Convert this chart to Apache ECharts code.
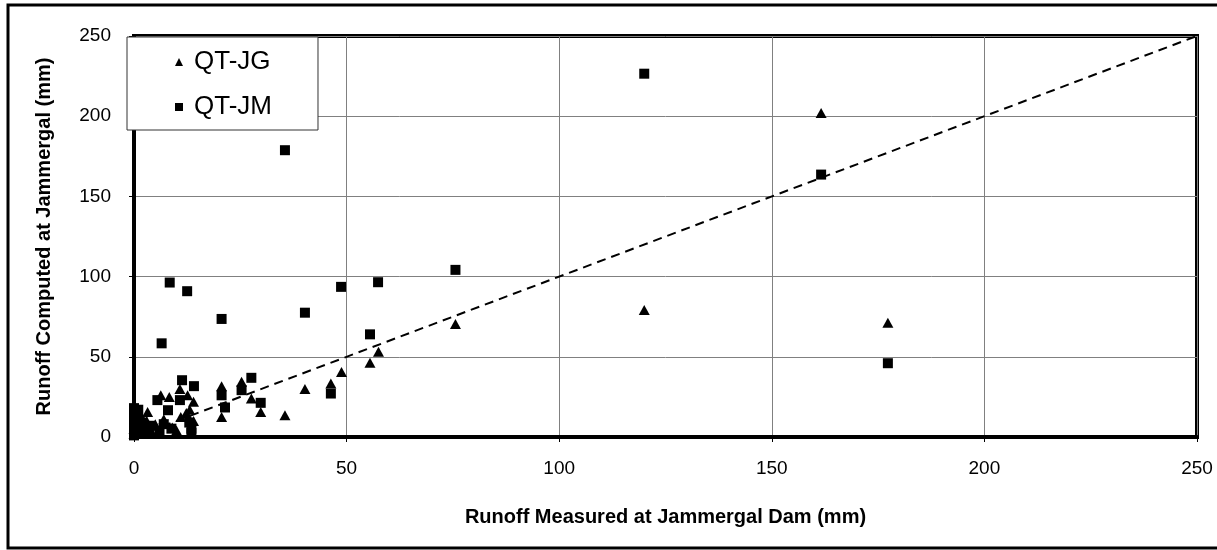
<!DOCTYPE html>
<html>
<head>
<meta charset="utf-8">
<script src="https://cdn.jsdelivr.net/npm/echarts@6/dist/echarts.min.js"></script>
<style>
  html, body { margin: 0; padding: 0; background: #fff; overflow: hidden; }
  #chart { width: 1217px; height: 550px; }
</style>
</head>
<body>
<div id="chart"></div>
<script>
// Runoff at Jammergal: computed (two methods) versus measured, in mm
const seriesNames = ['QT-JG', 'QT-JM'];
const axisTicks = [0, 50, 100, 150, 200, 250];

// QT-JG: [measured, computed]
const qtJG = [
  [0, 2], [0, 5], [0.5, 8], [1, 3], [1.6, 13.6], [2, 6], [3.2, 15.6], [3, 10],
  [4, 4], [5, 8], [6.3, 26], [8.3, 25], [7, 11], [9, 6], [10, 4], [10.8, 30],
  [11, 12.5], [12.3, 15], [12.6, 26], [13.1, 17], [14, 22], [14, 10],
  [20.6, 31.7], [20.6, 12.5], [25.3, 34.4], [27.6, 24], [29.8, 15.6],
  [35.5, 13.6], [40.2, 30], [46.3, 33.4], [48.8, 40.6], [55.5, 46.3],
  [57.5, 53.1], [75.6, 70.4], [120, 79.2], [161.6, 202], [177.3, 71.3]
];

// QT-JM: [measured, computed]
const qtJM = [
  [0, 1], [0, 3], [0, 6], [0, 9], [0, 12], [0, 15], [0, 18], [1, 2], [1, 17],
  [2, 5], [2, 9], [3, 3], [4, 7], [5.5, 23], [6.5, 58.4], [6, 3], [7, 8],
  [8, 16.7], [8.4, 96.3], [8.8, 5.2], [10.8, 23], [11.3, 35.4], [12.5, 90.9],
  [13, 9], [13.5, 5.2], [13.5, 2.5], [14.1, 31.7], [20.6, 73.6], [20.6, 26],
  [21.4, 18.4], [25.3, 29.2], [27.6, 36.9], [29.8, 21.3], [35.5, 178.8],
  [40.2, 77.5], [46.3, 27.1], [48.7, 93.6], [55.5, 64], [57.4, 96.5],
  [75.6, 104.2], [120, 226.5], [161.6, 163.6], [177.3, 46]
];

// 1:1 reference line
const oneToOne = [[0, 0], [250, 250]];

const FONT = '"Liberation Sans", Arial, sans-serif';
const chart = echarts.init(document.getElementById('chart'), null, { renderer: 'canvas' });

const valueAxis = (name, extra) => Object.assign({
  type: 'value',
  min: axisTicks[0],
  max: axisTicks[axisTicks.length - 1],
  interval: axisTicks[1] - axisTicks[0],
  name: name,
  nameLocation: 'middle',
  nameTextStyle: { fontFamily: FONT, fontWeight: 'bold', fontSize: 20, color: '#000' },
  axisLine: { show: true, lineStyle: { color: '#000', width: 4 } },
  axisTick: { show: true, inside: false, length: 5, lineStyle: { color: '#000', width: 1 } },
  splitLine: { show: true, lineStyle: { color: '#808080', width: 1 } }
}, extra);

chart.setOption({
  animation: false,
  backgroundColor: '#fff',
  graphic: [{
    // outer frame: left, top and bottom edges (open on the right)
    type: 'polyline',
    shape: { points: [[1217, 5], [8, 5], [8, 548], [1217, 548]] },
    style: { fill: 'none', stroke: '#000', lineWidth: 3 },
    z: -1
  }],
  grid: {
    left: 134, right: 20, top: 36, bottom: 113,
    show: true, borderColor: '#000', borderWidth: 4, backgroundColor: 'transparent'
  },
  legend: {
    orient: 'vertical',
    left: 127, top: 37,
    padding: [12, 46, 10, 48],
    itemWidth: 8, itemHeight: 8, itemGap: 19, itemStyle: { borderWidth: 0 },
    backgroundColor: '#fff', borderColor: '#333', borderWidth: 1,
    textStyle: { fontFamily: FONT, fontSize: 26, color: '#000', lineHeight: 26, padding: [0, 0, 0, 6] },
    data: [
      { name: seriesNames[0], icon: 'triangle' },
      { name: seriesNames[1], icon: 'rect' }
    ],
    z: 10
  },
  xAxis: valueAxis('Runoff Measured at Jammergal Dam (mm)', {
    nameGap: 70,
    axisLabel: { fontFamily: FONT, fontSize: 19, color: '#000', margin: 22 }
  }),
  yAxis: valueAxis('Runoff Computed at Jammergal (mm)', {
    nameGap: 80,
    axisLabel: { fontFamily: FONT, fontSize: 19, color: '#000', margin: 23 }
  }),
  series: [
    {
      type: 'line', data: oneToOne, symbol: 'none', silent: true,
      lineStyle: { color: '#000', width: 2, type: [9, 6] }, z: 1
    },
    {
      name: seriesNames[0], type: 'scatter', data: qtJG,
      symbol: 'triangle', symbolSize: [11, 10],
      itemStyle: { color: '#000', opacity: 1 }, z: 3
    },
    {
      name: seriesNames[1], type: 'scatter', data: qtJM,
      symbol: 'rect', symbolSize: 10,
      itemStyle: { color: '#000', opacity: 1 }, z: 2
    }
  ]
});
</script>
</body>
</html>
